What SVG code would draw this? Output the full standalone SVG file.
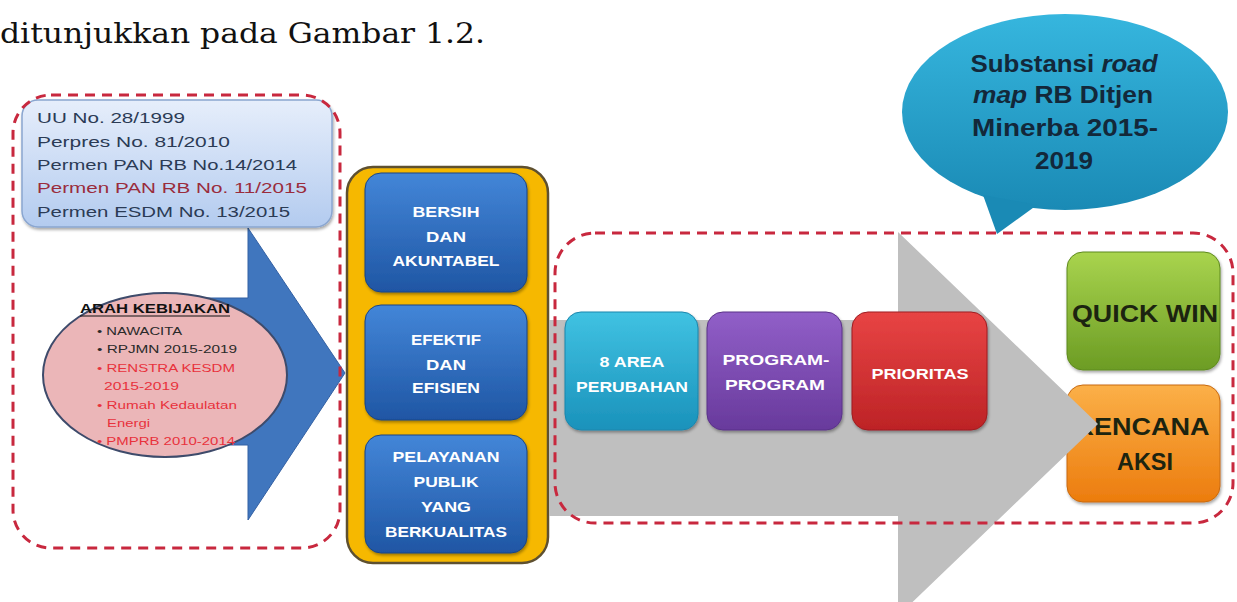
<svg xmlns="http://www.w3.org/2000/svg" width="1237" height="602" viewBox="0 0 1237 602">
<style>
.dash{fill:none;stroke:#c8283e;stroke-width:3;stroke-dasharray:10 7;}
.law{font-family:"Liberation Sans",Arial,sans-serif;font-size:15px;fill:#2b3b55;}
.pol{font-family:"Liberation Sans",Arial,sans-serif;font-size:11.5px;fill:#2a2a2a;}
.polr{fill:#e8323c;}
.btn{font-family:"Liberation Sans",Arial,sans-serif;font-size:15px;font-weight:bold;fill:#ffffff;text-anchor:middle;}
.big{font-family:"Liberation Sans",Arial,sans-serif;font-size:24px;font-weight:bold;fill:#1c2410;text-anchor:middle;}
.bub{font-family:"Liberation Sans",Arial,sans-serif;font-size:23px;font-weight:bold;fill:#13283a;text-anchor:middle;}
</style>
<defs>
<linearGradient id="gLaw" x1="0" y1="0" x2="0" y2="1"><stop offset="0" stop-color="#e6eefb"/><stop offset="1" stop-color="#b3cbef"/></linearGradient>
<linearGradient id="gBtn" x1="0" y1="0" x2="0" y2="1"><stop offset="0" stop-color="#4386d8"/><stop offset="1" stop-color="#1f56a4"/></linearGradient>
<linearGradient id="gTeal" x1="0" y1="0" x2="0" y2="1"><stop offset="0" stop-color="#40c2e2"/><stop offset="1" stop-color="#1a92bb"/></linearGradient>
<linearGradient id="gPurple" x1="0" y1="0" x2="0" y2="1"><stop offset="0" stop-color="#915fc8"/><stop offset="1" stop-color="#683a9c"/></linearGradient>
<linearGradient id="gRed" x1="0" y1="0" x2="0" y2="1"><stop offset="0" stop-color="#e84444"/><stop offset="1" stop-color="#bd2326"/></linearGradient>
<linearGradient id="gGreen" x1="0" y1="0" x2="0" y2="1"><stop offset="0" stop-color="#a9d44e"/><stop offset="1" stop-color="#6c9c24"/></linearGradient>
<linearGradient id="gOrange" x1="0" y1="0" x2="0" y2="1"><stop offset="0" stop-color="#fbb048"/><stop offset="1" stop-color="#ec7c0e"/></linearGradient>
<linearGradient id="gBub" x1="0" y1="0" x2="0" y2="1"><stop offset="0" stop-color="#36b6de"/><stop offset="1" stop-color="#1a8ab5"/></linearGradient>
<filter id="sh" x="-10%" y="-10%" width="130%" height="130%"><feDropShadow dx="1" dy="2" stdDeviation="1.5" flood-color="#000" flood-opacity="0.35"/></filter>
</defs>

<g id="caption">
<text x="0" y="43" font-family="'DejaVu Serif','Liberation Serif',serif" font-size="27" fill="#111" textLength="485" lengthAdjust="spacingAndGlyphs">ditunjukkan pada Gambar 1.2.</text>
</g>

<g id="connectors">
<polygon id="arrow-blue" points="200,298 248,298 248,228 345,373 248,520 248,445 200,445" fill="#4076be" stroke="#3360a3" stroke-width="1"/>
</g>

<g id="arah-kebijakan">
<ellipse cx="165" cy="375" rx="122" ry="82" fill="#ebb6b8" stroke="#3e4b6b" stroke-width="2"/>
<text x="80" y="313" font-family="'Liberation Sans',Arial,sans-serif" font-size="12.5" font-weight="bold" fill="#111" textLength="150" lengthAdjust="spacingAndGlyphs">ARAH KEBIJAKAN</text>
<line x1="80" y1="316" x2="230" y2="316" stroke="#111" stroke-width="1.2"/>
<text class="pol" x="97" y="335" textLength="85" lengthAdjust="spacingAndGlyphs">• NAWACITA</text>
<text class="pol" x="97" y="353" textLength="140" lengthAdjust="spacingAndGlyphs">• RPJMN 2015-2019</text>
<text class="pol polr" x="97" y="372" textLength="138" lengthAdjust="spacingAndGlyphs">• RENSTRA  KESDM</text>
<text class="pol polr" x="104" y="390" textLength="75" lengthAdjust="spacingAndGlyphs">2015-2019</text>
<text class="pol polr" x="97" y="409" textLength="140" lengthAdjust="spacingAndGlyphs">• Rumah Kedaulatan</text>
<text class="pol polr" x="107" y="427" textLength="43" lengthAdjust="spacingAndGlyphs">Energi</text>
<text class="pol polr" x="97" y="445" textLength="138" lengthAdjust="spacingAndGlyphs">• PMPRB 2010-2014</text>
</g>

<g id="dasar-hukum">
<rect x="22" y="100" width="310" height="127" rx="16" fill="url(#gLaw)" stroke="#8aa6d0" stroke-width="1.5" filter="url(#sh)"/>
<text class="law" x="37" y="123" textLength="148" lengthAdjust="spacingAndGlyphs">UU No. 28/1999</text>
<text class="law" x="37" y="147" textLength="193" lengthAdjust="spacingAndGlyphs">Perpres No. 81/2010</text>
<text class="law" x="37" y="170" textLength="260" lengthAdjust="spacingAndGlyphs">Permen PAN RB No.14/2014</text>
<text class="law" x="37" y="193" style="fill:#9a2c3c" textLength="270" lengthAdjust="spacingAndGlyphs">Permen PAN RB No. 11/2015</text>
<text class="law" x="37" y="217" textLength="253" lengthAdjust="spacingAndGlyphs">Permen ESDM No. 13/2015</text>
</g>

<g id="region-kiri">
<rect class="dash" x="13" y="95" width="327" height="453" rx="38"/>
</g>

<g id="nilai-rb">
<rect x="347" y="167" width="201" height="396" rx="26" fill="#f6b800" stroke="#5e5030" stroke-width="2.5"/>
<g id="bersih">
<rect x="365" y="173" width="162" height="119" rx="16" fill="url(#gBtn)" stroke="#1a4585" stroke-width="1" filter="url(#sh)"/>
<text class="btn" x="446" y="217" textLength="67" lengthAdjust="spacingAndGlyphs">BERSIH</text>
<text class="btn" x="446" y="242" textLength="40" lengthAdjust="spacingAndGlyphs">DAN</text>
<text class="btn" x="446" y="266" textLength="107" lengthAdjust="spacingAndGlyphs">AKUNTABEL</text>
</g>
<g id="efektif">
<rect x="365" y="305" width="162" height="115" rx="16" fill="url(#gBtn)" stroke="#1a4585" stroke-width="1" filter="url(#sh)"/>
<text class="btn" x="446" y="345" textLength="70" lengthAdjust="spacingAndGlyphs">EFEKTIF</text>
<text class="btn" x="446" y="370" textLength="40" lengthAdjust="spacingAndGlyphs">DAN</text>
<text class="btn" x="446" y="393" textLength="68" lengthAdjust="spacingAndGlyphs">EFISIEN</text>
</g>
<g id="pelayanan">
<rect x="365" y="435" width="162" height="118" rx="16" fill="url(#gBtn)" stroke="#1a4585" stroke-width="1" filter="url(#sh)"/>
<text class="btn" x="446" y="462" textLength="107" lengthAdjust="spacingAndGlyphs">PELAYANAN</text>
<text class="btn" x="446" y="487" textLength="65" lengthAdjust="spacingAndGlyphs">PUBLIK</text>
<text class="btn" x="446" y="512" textLength="50" lengthAdjust="spacingAndGlyphs">YANG</text>
<text class="btn" x="446" y="537" textLength="122" lengthAdjust="spacingAndGlyphs">BERKUALITAS</text>
</g>
</g>

<g id="rencana-aksi">
<rect x="1067" y="385" width="153" height="117" rx="16" fill="url(#gOrange)" stroke="#c86a10" stroke-width="1" filter="url(#sh)"/>
<text class="big" x="1142" y="435" textLength="135" lengthAdjust="spacingAndGlyphs">RENCANA</text>
<text class="big" x="1145" y="470" textLength="56" lengthAdjust="spacingAndGlyphs">AKSI</text>
</g>

<g id="connectors-2">
<polygon id="arrow-grey" points="549,320 898,320 898,232 1098,424 898,616 898,516 549,516" fill="#bfbfbf"/>
</g>

<g id="region-kanan">
<rect class="dash" x="555" y="233" width="678" height="290" rx="40"/>
</g>

<g id="area-perubahan">
<rect x="565" y="312" width="133" height="118" rx="16" fill="url(#gTeal)" stroke="#1a86ad" stroke-width="1" filter="url(#sh)"/>
<text class="btn" x="632" y="367" textLength="65" lengthAdjust="spacingAndGlyphs">8 AREA</text>
<text class="btn" x="632" y="392" textLength="112" lengthAdjust="spacingAndGlyphs">PERUBAHAN</text>
</g>
<g id="program">
<rect x="707" y="312" width="135" height="118" rx="16" fill="url(#gPurple)" stroke="#5a3288" stroke-width="1" filter="url(#sh)"/>
<text class="btn" x="776" y="365" textLength="107" lengthAdjust="spacingAndGlyphs">PROGRAM-</text>
<text class="btn" x="775" y="390" textLength="100" lengthAdjust="spacingAndGlyphs">PROGRAM</text>
</g>
<g id="prioritas">
<rect x="852" y="312" width="135" height="118" rx="16" fill="url(#gRed)" stroke="#9e1c1f" stroke-width="1" filter="url(#sh)"/>
<text class="btn" x="920" y="379" textLength="97" lengthAdjust="spacingAndGlyphs">PRIORITAS</text>
</g>
<g id="quick-win">
<rect x="1067" y="252" width="153" height="118" rx="16" fill="url(#gGreen)" stroke="#5e8a1e" stroke-width="1" filter="url(#sh)"/>
<text class="big" x="1145" y="322" textLength="146" lengthAdjust="spacingAndGlyphs">QUICK WIN</text>
</g>

<g id="substansi">
<ellipse cx="1065" cy="112" rx="163" ry="98" fill="url(#gBub)"/>
<polygon points="983,195 997,234 1037,205" fill="#1a8ab5"/>
<text class="bub" x="1064" y="72" textLength="187" lengthAdjust="spacingAndGlyphs">Substansi <tspan font-style="italic">road</tspan></text>
<text class="bub" x="1063" y="103" textLength="180" lengthAdjust="spacingAndGlyphs"><tspan font-style="italic">map</tspan> RB Ditjen</text>
<text class="bub" x="1065" y="136" textLength="186" lengthAdjust="spacingAndGlyphs">Minerba 2015-</text>
<text class="bub" x="1064" y="169" textLength="58" lengthAdjust="spacingAndGlyphs">2019</text>
</g>
</svg>
